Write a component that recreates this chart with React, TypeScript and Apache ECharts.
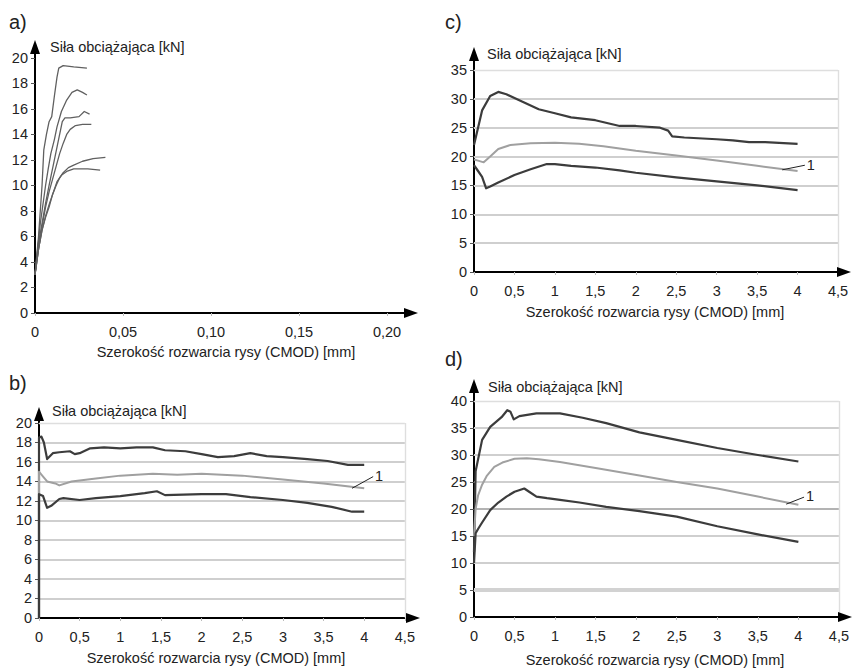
import React, { useEffect, useRef } from "react";
import * as echarts from "echarts";

const FONT = "'Liberation Sans', Arial, Helvetica, sans-serif";
const xTitle = "Szerokość rozwarcia rysy (CMOD) [mm]";
const yTitle = "Siła obciążająca [kN]";

// ---------- panel a ----------
const aXTicks = [0, 0.05, 0.1, 0.15, 0.2];
const aYTicks = [0, 2, 4, 6, 8, 10, 12, 14, 16, 18, 20];
const aCurve1 = [[0, 3], [0.001, 4.5], [0.002, 6], [0.003, 8], [0.004, 10], [0.005, 12.8], [0.0065, 14], [0.008, 15], [0.0095, 15.4], [0.011, 17], [0.0125, 18.5], [0.0135, 19.2], [0.016, 19.4], [0.022, 19.3], [0.0295, 19.2]];
const aCurve2 = [[0, 3], [0.0015, 5], [0.003, 7], [0.0045, 8.5], [0.006, 10], [0.0075, 11.3], [0.009, 12.5], [0.011, 13.6], [0.0125, 14.6], [0.015, 15.8], [0.018, 16.7], [0.021, 17.3], [0.024, 17.5], [0.027, 17.3], [0.0295, 17.1]];
const aCurve3 = [[0, 3], [0.002, 5.5], [0.004, 7], [0.006, 8.6], [0.008, 10], [0.0095, 11], [0.011, 12], [0.0125, 13], [0.014, 14], [0.0155, 15], [0.017, 15.3], [0.02, 15.3], [0.025, 15.4], [0.028, 15.8], [0.031, 15.6]];
const aCurve4 = [[0, 3], [0.002, 5], [0.004, 6.8], [0.006, 8.3], [0.008, 9.5], [0.01, 10.5], [0.012, 11.5], [0.014, 12.5], [0.016, 13.3], [0.018, 14], [0.02, 14.4], [0.023, 14.7], [0.027, 14.8], [0.032, 14.8]];
const aCurve5 = [[0, 3], [0.002, 5], [0.004, 6.5], [0.006, 7.6], [0.008, 8.5], [0.01, 9.3], [0.012, 10], [0.014, 10.6], [0.016, 11], [0.019, 11.4], [0.022, 11.6], [0.027, 11.9], [0.033, 12.1], [0.04, 12.2]];
const aCurve6 = [[0, 3], [0.002, 5], [0.004, 6.5], [0.006, 7.5], [0.008, 8.3], [0.01, 9.3], [0.0125, 10.3], [0.015, 10.8], [0.018, 11.1], [0.022, 11.3], [0.03, 11.3], [0.037, 11.2]];

// ---------- panels b, c, d ----------
const mmTicks = [0, 0.5, 1, 1.5, 2, 2.5, 3, 3.5, 4, 4.5];
const bYTicks = [0, 2, 4, 6, 8, 10, 12, 14, 16, 18, 20];
const cYTicks = [0, 5, 10, 15, 20, 25, 30, 35];
const dYTicks = [0, 5, 10, 15, 20, 25, 30, 35, 40];

const bTop = [[0, 0], [0, 18.5], [0.03, 18.6], [0.06, 18], [0.1, 16.3], [0.17, 16.9], [0.25, 17], [0.38, 17.1], [0.44, 16.8], [0.5, 16.9], [0.63, 17.4], [0.8, 17.5], [1, 17.4], [1.2, 17.5], [1.4, 17.5], [1.55, 17.2], [1.8, 17.1], [2, 16.8], [2.2, 16.5], [2.4, 16.6], [2.6, 16.9], [2.8, 16.6], [3, 16.5], [3.3, 16.3], [3.55, 16.1], [3.8, 15.7], [4, 15.7]];
const bMid = [[0, 0], [0, 15], [0.05, 14.5], [0.1, 14], [0.2, 13.8], [0.25, 13.6], [0.4, 14], [0.7, 14.3], [1, 14.6], [1.4, 14.8], [1.7, 14.7], [2, 14.8], [2.5, 14.6], [3, 14.2], [3.5, 13.8], [4, 13.3]];
const bBot = [[0, 0], [0, 12.7], [0.05, 12.5], [0.1, 11.3], [0.15, 11.5], [0.25, 12.2], [0.3, 12.3], [0.5, 12.1], [0.7, 12.3], [1, 12.5], [1.3, 12.8], [1.45, 13], [1.55, 12.6], [2, 12.7], [2.3, 12.7], [2.6, 12.4], [3, 12.1], [3.3, 11.8], [3.6, 11.4], [3.85, 10.9], [4, 10.9]];

const cTop = [[0, 22], [0.05, 25], [0.1, 28], [0.2, 30.5], [0.3, 31.2], [0.4, 30.8], [0.6, 29.5], [0.8, 28.2], [1, 27.5], [1.2, 26.8], [1.5, 26.3], [1.8, 25.3], [2, 25.3], [2.3, 25], [2.4, 24.5], [2.45, 23.5], [2.6, 23.3], [3, 23], [3.2, 22.8], [3.4, 22.5], [3.6, 22.5], [4, 22.2]];
const cMid = [[0, 19.5], [0.05, 19.3], [0.12, 19], [0.2, 20], [0.3, 21.3], [0.45, 22], [0.7, 22.3], [1, 22.4], [1.3, 22.2], [1.6, 21.8], [2, 21], [2.5, 20.2], [3, 19.3], [3.5, 18.4], [4, 17.5]];
const cBot = [[0, 18.5], [0.05, 17.5], [0.1, 16.5], [0.15, 14.5], [0.2, 14.8], [0.3, 15.5], [0.5, 16.8], [0.7, 17.8], [0.9, 18.7], [1, 18.7], [1.2, 18.4], [1.5, 18.1], [1.8, 17.6], [2, 17.2], [2.5, 16.4], [3, 15.7], [3.5, 15], [4, 14.2]];

const dTop = [[0, 12], [0.02, 27], [0.1, 32.8], [0.2, 35.2], [0.34, 37], [0.41, 38.3], [0.45, 38], [0.49, 36.6], [0.56, 37.2], [0.77, 37.7], [1.06, 37.7], [1.34, 36.9], [1.63, 35.9], [2.04, 34.2], [2.5, 32.8], [3, 31.3], [3.5, 30], [4, 28.8]];
const dMid = [[0, 15], [0.02, 20], [0.05, 22.5], [0.1, 24.5], [0.16, 26.2], [0.25, 27.8], [0.35, 28.6], [0.5, 29.3], [0.65, 29.4], [0.8, 29.2], [1.06, 28.7], [1.5, 27.6], [2.04, 26.2], [2.5, 25], [3, 23.8], [3.5, 22.3], [4, 20.8]];
const dBot = [[0, 10], [0.02, 15.5], [0.05, 16.3], [0.1, 17.5], [0.2, 19.8], [0.3, 21.2], [0.4, 22.3], [0.5, 23.2], [0.62, 23.8], [0.68, 23.2], [0.77, 22.3], [0.9, 22], [1.06, 21.7], [1.3, 21.2], [1.63, 20.4], [2.04, 19.6], [2.5, 18.6], [3, 16.8], [3.5, 15.3], [4, 13.9]];

// leader "1" (from, to) in data units
const bNote = [[3.85, 13.3], [4.11, 14.5]];
const cNote = [[3.81, 17.7], [4.09, 18.5]];
const dNote = [[3.85, 20.9], [4.07, 22.2]];

type Curve = { data: number[][]; tone: "dark" | "light" | "thin"; note?: number[][] };

interface Panel {
  left: number; top: number; width: number; height: number;
  xMax: number; yMax: number; plotX: number; plotY: number;
  xTicks: number[]; yTicks: number[]; dec: number; gridLines: boolean;
  curves: Curve[]; strongY?: number; thickY?: number;
  label: string; labelPos: number[]; yTitlePos: number[]; xTitlePos: number[];
}

const panels: Panel[] = [
  {
    left: 35, top: 47, width: 376, height: 266, xMax: 0.2136, yMax: 20.86, plotX: 0.2, plotY: 20,
    xTicks: aXTicks, yTicks: aYTicks, dec: 2, gridLines: false,
    curves: [aCurve1, aCurve2, aCurve3, aCurve4, aCurve5, aCurve6].map((d) => ({ data: d, tone: "thin" as const })),
    label: "a)", labelPos: [9, 22], yTitlePos: [50, 47], xTitlePos: [226, 352],
  },
  {
    left: 39, top: 414, width: 374, height: 204, xMax: 4.6, yMax: 20.92, plotX: 4.5, plotY: 20,
    xTicks: mmTicks, yTicks: bYTicks, dec: 1, gridLines: true,
    curves: [{ data: bTop, tone: "dark" }, { data: bMid, tone: "light", note: bNote }, { data: bBot, tone: "dark" }],
    label: "b)", labelPos: [9, 383], yTitlePos: [52, 411], xTitlePos: [216, 658],
  },
  {
    left: 474, top: 54, width: 370, height: 218, xMax: 4.574, yMax: 37.77, plotX: 4.5, plotY: 35,
    xTicks: mmTicks, yTicks: cYTicks, dec: 1, gridLines: true,
    curves: [{ data: cTop, tone: "dark" }, { data: cMid, tone: "light", note: cNote }, { data: cBot, tone: "dark" }],
    label: "c)", labelPos: [445, 22], yTitlePos: [487, 54], xTitlePos: [655, 312],
  },
  {
    left: 474, top: 386, width: 371, height: 231, xMax: 4.563, yMax: 42.78, plotX: 4.5, plotY: 40,
    xTicks: mmTicks, yTicks: dYTicks, dec: 1, gridLines: true, strongY: 20, thickY: 5,
    curves: [{ data: dTop, tone: "dark" }, { data: dMid, tone: "light", note: dNote }, { data: dBot, tone: "dark" }],
    label: "d)", labelPos: [445, 359], yTitlePos: [488, 387], xTitlePos: [655, 660],
  },
];

function fmt(v: number, dec: number): string {
  if (v === 0) return "0";
  return (dec === 2 ? v.toFixed(2) : String(v)).replace(".", ",");
}

const toneStyle = {
  dark: { color: "#3c3c3c", width: 2.2 },
  light: { color: "#a0a0a0", width: 2 },
  thin: { color: "#606060", width: 1.3 },
};

const TICK_FONT = 14.5;
const TITLE_FONT = 14.5;

function buildOption() {
  const grid: any[] = [];
  const xAxis: any[] = [];
  const yAxis: any[] = [];
  const series: any[] = [];
  const graphic: any[] = [];

  const txt = (x: number, y: number, text: string, size: number, align = "left") => ({
    type: "text", x, y, z: 10,
    style: { text, font: `${size}px ${FONT}`, fill: "#222", textAlign: align, textVerticalAlign: "middle" },
  });

  panels.forEach((p, i) => {
    grid.push({ left: p.left, top: p.top, width: p.width, height: p.height });
    xAxis.push({
      type: "value", gridIndex: i, min: 0, max: p.xMax,
      splitLine: { show: false },
      axisLine: { show: true, onZero: false, lineStyle: { color: "#000", width: 2 } },
      axisTick: { show: true, customValues: p.xTicks, length: 3, lineStyle: { color: "#bbb" } },
      axisLabel: { customValues: p.xTicks, formatter: (v: number) => fmt(v, p.dec), margin: 11, fontSize: TICK_FONT, color: "#222", fontFamily: FONT },
    });
    yAxis.push({
      type: "value", gridIndex: i, min: 0, max: p.yMax,
      splitLine: { show: false },
      axisLine: { show: true, onZero: false, lineStyle: { color: "#000", width: 2 } },
      axisTick: { show: true, customValues: p.yTicks, length: 4, lineStyle: { color: "#555" } },
      axisLabel: { customValues: p.yTicks, formatter: (v: number) => String(v), margin: 7, fontSize: TICK_FONT, color: "#222", fontFamily: FONT },
    });

    if (p.gridLines) {
      const lines: any[] = [];
      p.yTicks.filter((v) => v > 0).forEach((v) => {
        let ls: any = { color: "#cfcfcf", width: 1.8, type: "solid" };
        if (v === p.plotY) ls = { color: "#dedede", width: 1.4, type: "solid" };
        if (v === p.strongY) ls = { color: "#9a9a9a", width: 1.6, type: "solid" };
        if (v === p.thickY) ls = { color: "#d2d2d2", width: 4, type: "solid" };
        lines.push([{ coord: [0, v], lineStyle: ls }, { coord: [p.plotX, v] }]);
      });
      lines.push([{ coord: [p.plotX, 0], lineStyle: { color: "#dedede", width: 1.4, type: "solid" } }, { coord: [p.plotX, p.plotY] }]);
      series.push({
        type: "line", xAxisIndex: i, yAxisIndex: i, data: [[0, 0]], symbol: "none", z: 1,
        lineStyle: { width: 0 },
        markLine: { silent: true, z: 1, symbol: ["none", "none"], label: { show: false }, data: lines, animation: false },
      });
    }

    p.curves.forEach((c) => {
      const st = toneStyle[c.tone];
      const s: any = {
        type: "line", xAxisIndex: i, yAxisIndex: i, data: c.data, symbol: "none", showSymbol: false, z: 3,
        lineStyle: { color: st.color, width: st.width, join: "round" },
      };
      if (c.note) {
        s.markLine = {
          silent: true, z: 6, symbol: ["none", "none"],
          lineStyle: { color: "#222", width: 1, type: "solid" },
          label: { show: true, position: "end", formatter: "1", fontSize: TICK_FONT, color: "#222", fontFamily: FONT, distance: 2 },
          data: [[{ coord: c.note[0] }, { coord: c.note[1] }]],
          animation: false,
        };
      }
      series.push(s);
    });

    // axis arrow heads at the ends of the axis lines
    const x0 = p.left;
    const y0 = p.top + p.height;
    const xe = p.left + p.width;
    const ye = p.top;
    graphic.push({ type: "polygon", z: 10, shape: { points: [[x0, ye - 7], [x0 - 5, ye + 7], [x0 + 5, ye + 7]] }, style: { fill: "#000" } });
    graphic.push({ type: "polygon", z: 10, shape: { points: [[xe + 7, y0], [xe - 7, y0 - 5], [xe - 7, y0 + 5]] }, style: { fill: "#000" } });

    graphic.push(txt(p.labelPos[0], p.labelPos[1], p.label, 20));
    graphic.push(txt(p.yTitlePos[0], p.yTitlePos[1], yTitle, TITLE_FONT));
    graphic.push(txt(p.xTitlePos[0], p.xTitlePos[1], xTitle, TITLE_FONT, "center"));
  });

  return { animation: false, backgroundColor: "#fff", grid, xAxis, yAxis, series, graphic };
}

export default function App() {
  const ref = useRef<HTMLDivElement>(null);
  useEffect(() => {
    if (!ref.current) return;
    const chart = echarts.init(ref.current, undefined, { renderer: "svg" });
    chart.setOption(buildOption() as any);
    return () => chart.dispose();
  }, []);
  return <div ref={ref} style={{ position: "absolute", left: 0, top: 0, width: 852, height: 669, background: "#fff" }} />;
}
